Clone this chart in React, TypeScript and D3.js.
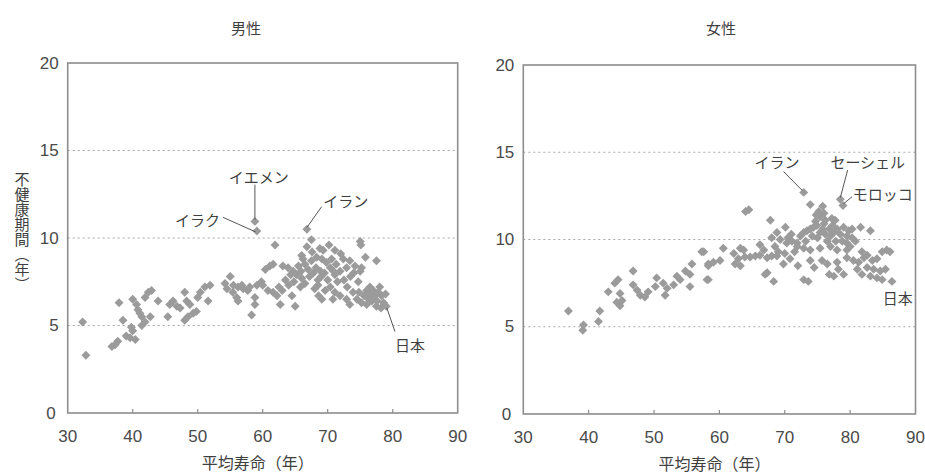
import React from 'react';
import * as d3 from 'd3';

const xTicks = [30, 40, 50, 60, 70, 80, 90];
const yTicks = [0, 5, 10, 15, 20];
const gridValues = [5, 10, 15];
const panelTitles = ['男性', '女性'];
const xAxisLabel = '平均寿命（年）';
const yAxisLabel = '不健康期間（年）';

// [平均寿命, 不健康期間]
const malePoints: [number, number][] = [
  [32.3, 5.2], [32.8, 3.3], [36.8, 3.8], [37.3, 3.9], [37.7, 4.1], [37.9, 6.3], [38.5, 5.3], [39.0, 4.4],
  [39.6, 4.3], [39.8, 4.9], [40.0, 4.7], [40.0, 6.5], [40.6, 6.2], [40.8, 5.9], [41.1, 5.7], [41.4, 5.5],
  [40.4, 4.2], [41.4, 5.0], [41.9, 5.2], [42.7, 5.5], [41.9, 6.6], [42.4, 6.9], [42.9, 7.0], [43.9, 6.4],
  [45.4, 5.5], [45.7, 6.2], [46.2, 6.4], [46.8, 6.1], [47.3, 6.0], [48.0, 6.9], [48.0, 5.3], [48.5, 5.5],
  [49.3, 5.7], [49.8, 5.8], [48.3, 6.4], [48.8, 6.2], [50.0, 6.6], [50.4, 6.9], [51.1, 7.2], [51.9, 7.3],
  [51.6, 6.4], [54.2, 7.4], [54.5, 7.1], [55.0, 7.8], [55.4, 6.9], [56.0, 6.6], [56.2, 6.4], [56.2, 7.2],
  [57.0, 7.1], [57.7, 7.0], [58.0, 7.2], [58.8, 10.95], [59.1, 10.4], [66.8, 10.5], [61.9, 9.6], [75.0, 9.8],
  [75.1, 9.6], [67.5, 9.9], [66.8, 9.5], [68.8, 9.4], [71.1, 9.3], [75.8, 8.9], [77.5, 8.7], [59.1, 7.3],
  [59.8, 7.5], [60.4, 8.2], [61.1, 8.4], [61.6, 8.5], [61.6, 6.9], [62.2, 6.7], [63.1, 8.4], [63.9, 8.3],
  [64.7, 8.1], [65.2, 7.9], [66.0, 7.7], [66.5, 7.4], [62.7, 6.2], [58.8, 6.2], [58.3, 5.6], [65.0, 6.1],
  [64.5, 6.7], [67.5, 8.7], [68.3, 8.9], [69.1, 8.8], [69.8, 8.6], [70.4, 8.3], [71.1, 7.9], [71.9, 8.1],
  [72.9, 8.3], [73.4, 8.7], [74.2, 8.4], [68.0, 7.1], [68.6, 6.7], [69.1, 6.5], [69.6, 7.0], [70.4, 7.2],
  [71.1, 6.9], [71.9, 6.7], [72.9, 6.5], [73.4, 6.2], [74.7, 7.5], [75.0, 8.1], [75.2, 8.3], [73.9, 6.9],
  [74.5, 6.5], [75.2, 6.3], [76.0, 6.2], [76.8, 6.4], [77.3, 6.7], [77.8, 6.9], [78.0, 7.2], [78.3, 6.7],
  [78.6, 6.3], [76.5, 7.2], [77.0, 7.0], [79.0, 6.1], [55.5, 7.3], [56.8, 7.3], [58.8, 6.6], [63.5, 7.6],
  [64.0, 7.3], [64.8, 7.5], [65.5, 8.4], [66.2, 8.8], [66.0, 9.0], [67.0, 8.2], [67.2, 7.8], [67.8, 8.0],
  [68.2, 8.3], [68.5, 7.6], [69.0, 7.8], [69.5, 8.0], [70.0, 7.6], [70.6, 8.8], [71.3, 8.5], [72.0, 9.1],
  [72.5, 7.6], [73.0, 7.2], [69.3, 9.3], [70.2, 9.6], [72.4, 8.8], [66.5, 8.5], [65.8, 7.2], [64.3, 7.9],
  [62.5, 7.2], [63.0, 7.0], [60.8, 7.0], [60.0, 7.3], [68.5, 7.3], [71.5, 7.5], [74.0, 8.0], [76.0, 7.0],
  [76.5, 6.7], [77.5, 6.1], [78.2, 6.0], [78.9, 6.8], [76.3, 6.5], [74.8, 6.9], [73.5, 7.8], [70.8, 6.5],
  [67.6, 9.2], [68.9, 8.1], [70.9, 8.1], [65.9, 8.1], [77.6, 6.4], [75.6, 6.7],
];

const femalePoints: [number, number][] = [
  [36.9, 5.9], [39.2, 5.1], [39.1, 4.8], [41.7, 5.9], [41.5, 5.3], [43.0, 7.0], [44.0, 7.5], [44.5, 7.7],
  [44.8, 6.9], [44.3, 6.4], [44.8, 6.2], [45.1, 6.5], [46.8, 8.2], [46.8, 7.4], [47.4, 7.1], [47.9, 6.8],
  [48.6, 6.7], [49.1, 7.0], [50.2, 7.3], [50.4, 7.8], [51.4, 7.5], [52.0, 7.2], [51.7, 6.8], [53.0, 7.4],
  [53.5, 7.9], [54.0, 7.7], [54.8, 8.2], [55.8, 8.6], [55.5, 7.3], [57.3, 9.3], [58.1, 7.7], [58.3, 8.6],
  [72.9, 12.7], [78.5, 12.3], [78.9, 11.95], [64.0, 11.6], [64.5, 11.7], [73.9, 12.0], [75.2, 11.6], [75.4, 11.3],
  [74.7, 11.05], [76.2, 11.1], [77.2, 11.2], [77.7, 11.1], [67.8, 11.1], [70.1, 10.7], [68.8, 10.4], [68.0, 10.1],
  [83.1, 10.5], [81.6, 10.7], [80.3, 10.6], [79.0, 10.7], [57.6, 9.3], [60.6, 9.5], [59.1, 8.7], [60.1, 8.8],
  [58.3, 8.5], [62.2, 9.2], [63.2, 9.5], [63.7, 9.4], [63.9, 9.0], [62.9, 8.9], [62.4, 8.6], [63.2, 8.5],
  [64.7, 9.0], [65.5, 9.05], [66.2, 9.1], [66.8, 9.4], [66.2, 9.7], [67.3, 8.95], [68.0, 9.05], [68.8, 9.05],
  [67.0, 8.0], [68.3, 7.6], [58.3, 7.7], [69.3, 10.0], [70.3, 9.8], [71.1, 9.9], [71.9, 9.8], [72.4, 10.2],
  [72.9, 10.4], [73.4, 10.5], [73.9, 10.6], [74.4, 10.7], [74.9, 10.8], [75.4, 10.4], [76.2, 10.3], [77.0, 10.2],
  [77.5, 10.4], [78.0, 10.6], [78.5, 10.3], [79.5, 10.2], [80.3, 10.1], [80.8, 9.9], [79.5, 9.8], [71.9, 9.6],
  [72.9, 9.5], [73.9, 9.4], [75.4, 9.5], [77.0, 9.6], [73.9, 8.8], [75.7, 8.8], [76.5, 8.6], [78.0, 8.7],
  [78.2, 8.3], [79.5, 8.95], [78.0, 9.4], [79.5, 9.4], [80.5, 8.8], [81.3, 8.7], [82.1, 8.95], [82.6, 9.1],
  [83.4, 8.8], [84.1, 8.9], [84.9, 9.3], [85.6, 9.4], [82.6, 8.4], [83.6, 8.3], [84.6, 8.2], [85.4, 8.3],
  [81.1, 8.3], [81.8, 8.0], [83.1, 7.9], [84.1, 7.8], [84.9, 7.7], [86.4, 7.6], [72.9, 7.7], [73.6, 7.6],
  [67.3, 8.1], [86.1, 9.3], [76.0, 10.9], [76.8, 10.6], [77.3, 10.8], [75.8, 10.6], [76.5, 9.9], [75.0, 10.1],
  [74.2, 10.2], [73.2, 9.9], [77.8, 9.9], [78.8, 9.9], [79.8, 10.5], [80.0, 9.6], [76.0, 11.5], [75.8, 11.9],
  [74.8, 11.4], [71.0, 10.3], [70.5, 10.1], [68.5, 9.6], [69.0, 9.3], [70.0, 9.2], [71.5, 9.3], [70.8, 8.9],
  [69.8, 8.6], [72.0, 8.5], [74.5, 8.4], [76.8, 8.0], [77.5, 7.9], [79.0, 8.0], [81.8, 9.3], [55.5, 8.0],
];

type Annotation = {
  text: string;
  label: [number, number];
  anchor: 'start' | 'middle' | 'end';
  lineFrom?: [number, number];
  lineTo?: [number, number];
};

const maleAnnotations: Annotation[] = [
  { text: 'イエメン', label: [59.4, 13.54], anchor: 'middle', lineFrom: [58.8, 13.05], lineTo: [58.8, 11.05] },
  { text: 'イラク', label: [53.45, 11.03], anchor: 'end', lineFrom: [53.9, 11.18], lineTo: [58.9, 10.35] },
  { text: 'イラン', label: [69.3, 12.17], anchor: 'start', lineFrom: [69.07, 11.79], lineTo: [66.8, 10.6] },
  { text: '日本', label: [80.35, 3.89], anchor: 'start', lineFrom: [80.35, 4.65], lineTo: [79.1, 6.0] },
];

const femaleAnnotations: Annotation[] = [
  { text: 'イラン', label: [68.8, 14.46], anchor: 'middle', lineFrom: [69.82, 13.89], lineTo: [72.7, 12.8] },
  { text: 'セーシェル', label: [82.7, 14.46], anchor: 'middle', lineFrom: [79.62, 13.98], lineTo: [78.5, 12.4] },
  { text: 'モロッコ', label: [85.0, 12.65], anchor: 'middle', lineFrom: [80.29, 12.45], lineTo: [79.0, 12.05] },
  { text: '日本', label: [87.3, 6.65], anchor: 'middle' },
];

const AXIS_COLOR = '#8d8d8d';
const POINT_COLOR = '#9b9b9b';
const TEXT_COLOR = '#3f3f3f';
const NUM_FONT = '"Liberation Sans", Arial, sans-serif';
const JP_FONT = '"Noto Sans CJK JP", "Noto Sans", sans-serif';

const diamond = d3.symbol(d3.symbolSquare, 40)() as string;

function Panel({
  points, xRange, yRange, title, titleX, annotations, showYLabel,
}: {
  points: [number, number][];
  xRange: [number, number];
  yRange: [number, number];
  title: string;
  titleX: number;
  annotations: Annotation[];
  showYLabel: boolean;
}) {
  const x = d3.scaleLinear().domain([30, 90]).range(xRange);
  const y = d3.scaleLinear().domain([0, 20]).range(yRange);
  const [x0, x1] = xRange;
  const [yb, yt] = yRange;
  return (
    <g>
      <text x={titleX} y={27} textAnchor="middle" dominantBaseline="central"
        fontFamily={JP_FONT} fontSize={15} fill={TEXT_COLOR}>{title}</text>
      {gridValues.map((v) => (
        <line key={'g' + v} x1={x0} x2={x1} y1={y(v)} y2={y(v)} stroke="#a8a8a8"
          strokeWidth={1.2} strokeDasharray="2,3" />
      ))}
      {xTicks.slice(1, -1).map((v) => (
        <line key={'t' + v} x1={x(v)} x2={x(v)} y1={yb} y2={yb - 4} stroke={AXIS_COLOR} strokeWidth={1.2} />
      ))}
      <rect x={x0} y={yt} width={x1 - x0} height={yb - yt} fill="none" stroke={AXIS_COLOR} strokeWidth={1.6} />
      {yTicks.map((v) => (
        <text key={'yl' + v} x={x0 - (v === 0 ? 12 : 9)} y={y(v)} textAnchor="end"
          dominantBaseline="central" fontFamily={NUM_FONT} fontSize={17} fill={'#4a4a4a'}>{v}</text>
      ))}
      {xTicks.map((v) => (
        <text key={'xl' + v} x={x(v)} y={yb + 23} textAnchor="middle" dominantBaseline="central"
          fontFamily={NUM_FONT} fontSize={17} fill={'#4a4a4a'}>{v}</text>
      ))}
      <text x={(x0 + x1) / 2 - 5} y={yb + 49} textAnchor="middle" dominantBaseline="central"
        fontFamily={JP_FONT} fontSize={16} fill={TEXT_COLOR}>{xAxisLabel}</text>
      {showYLabel && (
        <text x={22} y={172} fontFamily={JP_FONT} fontSize={15} fill={TEXT_COLOR}
          style={{ writingMode: 'vertical-rl' } as React.CSSProperties}>{yAxisLabel}</text>
      )}
      {points.map((p, i) => (
        <path key={'p' + i} d={diamond} transform={`translate(${x(p[0])},${y(p[1])}) rotate(45)`}
          fill={POINT_COLOR} />
      ))}
      {annotations.map((a, i) => (
        <g key={'a' + i}>
          {a.lineFrom && a.lineTo && (
            <line x1={x(a.lineFrom[0])} y1={y(a.lineFrom[1])} x2={x(a.lineTo[0])} y2={y(a.lineTo[1])}
              stroke="#555" strokeWidth={1} />
          )}
          <text x={x(a.label[0])} y={y(a.label[1])} textAnchor={a.anchor} dominantBaseline="central"
            fontFamily={JP_FONT} fontSize={15} fill={TEXT_COLOR}>{a.text}</text>
        </g>
      ))}
    </g>
  );
}

export default function App() {
  return (
    <div style={{ position: 'fixed', left: 0, top: 0, width: 925, height: 474, background: '#fff' }}>
      <svg width={925} height={474} viewBox="0 0 925 474">
        <rect width={925} height={474} fill="#ffffff" />
        <Panel points={malePoints} xRange={[67.7, 457.7]} yRange={[413, 63]} title={panelTitles[0]}
          titleX={246} annotations={maleAnnotations} showYLabel={true} />
        <Panel points={femalePoints} xRange={[523.3, 915.5]} yRange={[414, 65]} title={panelTitles[1]}
          titleX={721} annotations={femaleAnnotations} showYLabel={false} />
      </svg>
    </div>
  );
}
